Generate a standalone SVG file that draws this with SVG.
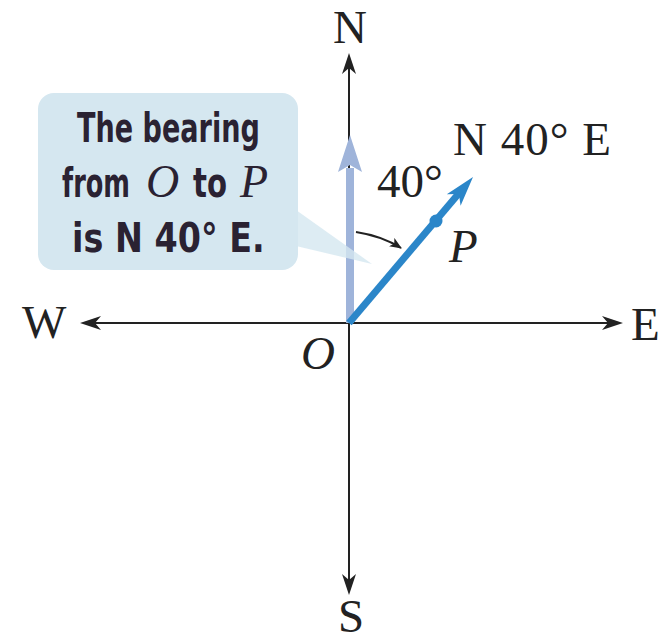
<svg xmlns="http://www.w3.org/2000/svg" width="661" height="642" viewBox="0 0 661 642">
<style>
.lbl{font-family:"Liberation Serif","Times New Roman",serif;font-size:47px;fill:#222}
.it{font-style:italic}
.call{font-family:"DejaVu Sans","Liberation Sans",sans-serif;font-weight:bold;font-size:41px;fill:#2a2232}
.ser{font-family:"Liberation Serif","Times New Roman",serif;font-style:italic;font-size:46px;fill:#2a2232}
.ax{stroke:#222;stroke-width:2;fill:none}
.ah{fill:#222}
</style>
<defs>
<marker id="sm" viewBox="0 0 12 10" refX="11" refY="5" markerWidth="12" markerHeight="10" markerUnits="userSpaceOnUse" orient="auto">
<path d="M0,0 L12,5 L0,10 L3,5 Z" fill="#222"/>
</marker>
</defs>
<rect width="661" height="642" fill="#fff"/>
<g id="connectors">
<line class="ax" x1="349" y1="60" x2="349" y2="588"/>
<line class="ax" x1="86" y1="323" x2="617" y2="323"/>
<polygon class="ah" points="349,53 342,74 349,68 356,74"/>
<polygon class="ah" points="349,595 342,574 349,580 356,574"/>
<polygon class="ah" points="623,323 602,316 608,323 602,330"/>
<polygon class="ah" points="80,323 101,316 95,323 101,330"/>
</g>
<g id="north-vector">
<rect x="346" y="168" width="8" height="155" fill="#9fb4da"/>
<polygon points="350,135 338,172 350,165 362,172" fill="#9fb4da"/>
</g>
<g id="callout">
<rect x="38" y="93" width="260" height="177" rx="16" fill="#d5e7f0"/>
<polygon points="296,210 372,264 296,246" fill="#d5e7f0" opacity="0.8"/>
<text class="call" transform="translate(77,142) scale(0.66,1)" textLength="277" lengthAdjust="spacingAndGlyphs">The bearing</text>
<text class="call" transform="translate(62,197) scale(0.66,1)" textLength="103" lengthAdjust="spacingAndGlyphs">from</text>
<text class="ser" x="146" y="197">O</text>
<text class="call" transform="translate(193,197) scale(0.66,1)" textLength="51.5" lengthAdjust="spacingAndGlyphs">to</text>
<text class="ser" x="240" y="197">P</text>
<text class="call" transform="translate(72,252) scale(0.66,1)" textLength="292" lengthAdjust="spacingAndGlyphs">is N 40° E.</text>
</g>
<g id="bearing-vector">
<line x1="349" y1="323" x2="460" y2="192" stroke="#2b86c9" stroke-width="7"/>
<polygon points="473,177 460.6,205.8 458.9,193.9 446.8,194.2" fill="#2b86c9"/>
<circle cx="436" cy="221" r="6.5" fill="#2b86c9"/>
</g>
<g id="angle">
<path d="M356,232 Q382,236 401,248" stroke="#222" stroke-width="2" fill="none" marker-end="url(#sm)"/>
<text class="lbl" x="377" y="197">40°</text>
</g>
<g id="labels">
<text class="lbl" x="350" y="43" text-anchor="middle" font-size="48">N</text>
<text class="lbl" x="22" y="338">W</text>
<text class="lbl" x="631" y="340">E</text>
<text class="lbl" x="351" y="632" text-anchor="middle" font-size="44">S</text>
<text class="lbl it" x="301" y="369">O</text>
<text class="lbl it" x="449" y="262">P</text>
<text class="lbl" x="453" y="155" font-size="48" letter-spacing="1">N 40° E</text>
</g>
</svg>
